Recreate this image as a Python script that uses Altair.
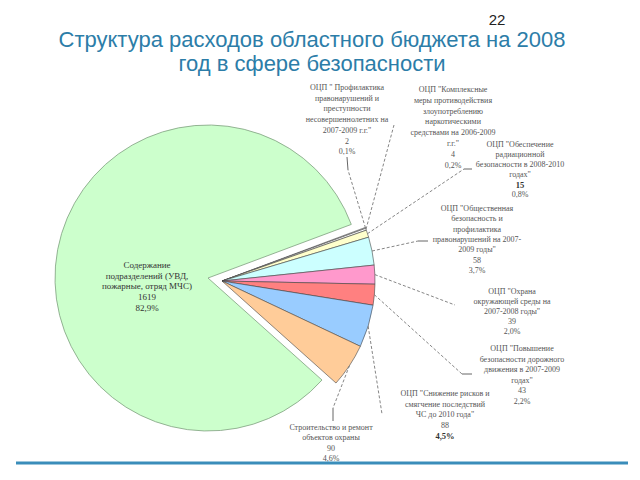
import math
import altair as alt
import pandas as pd

# ---------------- data ----------------
slice_names = [
    'ОЦП "Профилактика правонарушений и преступности несовершеннолетних на 2007-2009 г.г."',
    'ОЦП "Комплексные меры противодействия злоупотреблению наркотическими средствами на 2006-2009 г.г."',
    'ОЦП "Обеспечение радиационной безопасности в 2008-2010 годах"',
    'ОЦП "Общественная безопасность и профилактика правонарушений на 2007-2009 годы"',
    'ОЦП "Охрана окружающей среды на 2007-2008 годы"',
    'ОЦП "Повышение безопасности дорожного движения в 2007-2009 годах"',
    'ОЦП "Снижение рисков и смягчение последствий ЧС до 2010 года"',
    'Строительство и ремонт объектов охраны',
    'Содержание подразделений (УВД, пожарные, отряд МЧС)',
]
values = [2, 4, 15, 58, 39, 43, 88, 90, 1619]
shares = ["0,1%", "0,2%", "0,8%", "3,7%", "2,0%", "2,2%", "4,5%", "4,6%", "82,9%"]
groups = ["small"] * 8 + ["main"]

# label text as it is broken into lines on the slide
label_name_lines = [
    ['ОЦП " Профилактика', 'правонарушений и', 'преступности', 'несовершеннолетних на', '2007-2009 г.г."'],
    ['ОЦП "Комплексные', 'меры противодействия', 'злоупотреблению', 'наркотическими', 'средствами на 2006-2009', 'г.г."'],
    ['ОЦП "Обеспечение', 'радиационной', 'безопасности в 2008-2010', 'годах"'],
    ['ОЦП "Общественная', 'безопасность и', 'профилактика', 'правонарушений на 2007-', '2009 годы"'],
    ['ОЦП "Охрана', 'окружающей среды на', '2007-2008 годы"'],
    ['ОЦП "Повышение', 'безопасности дорожного', 'движения в 2007-2009', 'годах"'],
    ['ОЦП "Снижение рисков и', 'смягчение последствий', 'ЧС до 2010 года"'],
    ['Строительство и ремонт', 'объектов охраны'],
    ['Содержание', 'подразделений (УВД,', 'пожарные, отряд МЧС)'],
]
bold_value = [False, False, True, False, False, False, False, False, False]
bold_share = [False, False, False, False, False, False, True, False, False]

title_lines = ["Структура расходов областного бюджета на 2008", "год в сфере безопасности"]
page_number = "22"

# ---------------- style / layout ----------------
colors = ["#E6E6E6", "#FFFFFF", "#FFFFCC", "#CCFFFF", "#FF99CC",
          "#FF8080", "#99CCFF", "#FFCC99", "#CCFFCC"]
W, H = 624, 464
M = 8  # page margin; layout coordinates below are page pixels
small_center = (222, 281)
main_center = (208, 278)
R = 153
start_deg = 69.5

# label anchor (centre x, first line y, line step)
label_pos = [
    (347, 88, 10.7), (453, 90, 10.8), (520, 145, 10.0), (477, 209, 10.3),
    (512, 292, 10.0), (522, 349, 10.5), (445, 394, 10.5), (331, 428, 10.3),
    (147, 265, 10.7),
]
# end of the dashed leader near each label, and optional short solid tail
leader_end = [(348, 170), (394, 125), (464, 169), (418, 241),
              (455, 305), (462, 374), (382, 414), (333, 408), None]
leader_tail = [((347, 157), (348, 170)), None, ((464, 169), (472, 169)),
               ((418, 241), (428, 241)), None, ((462, 374), (472, 374)),
               None, ((333, 408), (333, 421)), None]

# ---------------- tables ----------------
total = sum(values)
arc_df = pd.DataFrame({
    "cat": slice_names, "value": values, "order": list(range(len(values))),
    "grp": groups,
})

xs = alt.Scale(domain=[M, M + W], nice=False, zero=False)
ys = alt.Scale(domain=[M, M + H], nice=False, zero=False, reverse=True)

text_rows = []
for i, lines in enumerate(label_name_lines):
    cx, y0, step = label_pos[i]
    all_lines = [(t, False) for t in lines] + [(str(values[i]), bold_value[i]),
                                               (shares[i], bold_share[i])]
    for k, (t, b) in enumerate(all_lines):
        style = "main" if groups[i] == "main" else ("bold" if b else "normal")
        text_rows.append({"x": cx, "y": y0 + k * step, "text": t, "style": style})
text_df = pd.DataFrame(text_rows)

# leaders: start at each slice's mid-angle on the rim
leader_rows, tail_rows = [], []
cum = 0
for i, v in enumerate(values):
    mid = start_deg + (cum + v / 2) / total * 360
    cum += v
    if leader_end[i] is None:
        continue
    a = math.radians(mid)
    sx = small_center[0] + R * math.sin(a)
    sy = small_center[1] - R * math.cos(a)
    leader_rows.append({"id": i, "seq": 0, "x": sx, "y": sy})
    leader_rows.append({"id": i, "seq": 1, "x": leader_end[i][0], "y": leader_end[i][1]})
    if leader_tail[i] is not None:
        (x1, y1), (x2, y2) = leader_tail[i]
        tail_rows.append({"x": x1, "y": y1, "x2": x2, "y2": y2})
leader_df = pd.DataFrame(leader_rows)
tail_df = pd.DataFrame(tail_rows)

title_df = pd.DataFrame({"x": [312, 312], "y": [40, 64], "text": title_lines})
num_df = pd.DataFrame({"x": [497], "y": [20], "text": [page_number]})

# ---------------- marks ----------------
a0 = math.radians(start_deg)
theta_scale = alt.Scale(domain=[0, total], range=[a0, a0 + 2 * math.pi])
color_scale = alt.Scale(domain=slice_names, range=colors)


def pie_layer(grp, center, stroke, sw):
    return (
        alt.Chart(arc_df)
        .transform_stack(stack="value", groupby=[], as_=["v0", "v1"],
                         sort=[alt.SortField("order", order="ascending")])
        .transform_filter(alt.datum.grp == grp)
        .mark_arc(radius=R, stroke=stroke, strokeWidth=sw)
        .encode(
            theta=alt.Theta("v0:Q", scale=theta_scale),
            theta2=alt.Theta2("v1:Q"),
            color=alt.Color("cat:N", scale=color_scale, legend=None),
            x=alt.value(center[0] - M),
            y=alt.value(center[1] - M),
        )
    )


main_pie = pie_layer("main", main_center, "#7F9F7F", 0.8)
small_pie = pie_layer("small", small_center, "#444444", 0.6)

X = alt.X("x:Q", scale=xs, axis=None)
Y = alt.Y("y:Q", scale=ys, axis=None)

leaders = alt.Chart(leader_df).mark_line(
    color="#666666", strokeWidth=0.8, strokeDash=[3, 2]
).encode(x=X, y=Y, detail="id:N", order="seq:Q")

tails = alt.Chart(tail_df).mark_rule(color="#555555", strokeWidth=0.9).encode(
    x=X, y=Y, x2="x2:Q", y2="y2:Q")


def text_layer(style, size, color, weight):
    return alt.Chart(text_df).transform_filter(alt.datum.style == style).mark_text(
        font="Liberation Serif", fontSize=size, color=color, fontWeight=weight,
        align="center", baseline="middle"
    ).encode(x=X, y=Y, text="text:N")


labels_normal = text_layer("normal", 8, "#555555", "normal")
labels_bold = text_layer("bold", 8.5, "#333333", "bold")
labels_main = text_layer("main", 9, "#333333", "normal")

title = alt.Chart(title_df).mark_text(
    font="Liberation Sans", fontSize=22, color="#2C7DA8",
    align="center", baseline="middle"
).encode(x=X, y=Y, text="text:N")

page_num = alt.Chart(num_df).mark_text(
    font="Liberation Sans", fontSize=15, color="#222222",
    align="center", baseline="middle"
).encode(x=X, y=Y, text="text:N")

bottom_rule = alt.Chart(num_df).mark_rule(color="#3A8DBA", strokeWidth=3).encode(
    x=alt.value(16 - M), x2=alt.value(628 - M), y=alt.value(463 - M))

chart = alt.layer(
    main_pie, small_pie, leaders, tails, labels_normal, labels_bold,
    labels_main, title, page_num, bottom_rule
).properties(
    width=W, height=H, padding=0,
    autosize=alt.AutoSizeParams(type="none"),
).configure_view(stroke=None)

chart.save("out.html", embed_options={"renderer": "svg", "actions": False})
